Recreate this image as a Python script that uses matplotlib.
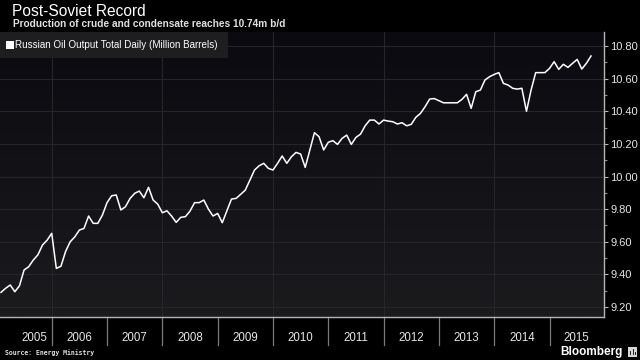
import numpy as np
import matplotlib
matplotlib.use("Agg")
import matplotlib.pyplot as plt
from matplotlib.patches import Rectangle
import matplotlib.transforms as mtransforms

# monthly output, Jan 2005 .. Sep 2015 (million barrels a day)
values = [
    9.29, 9.315, 9.335, 9.294, 9.33, 9.427, 9.447, 9.488, 9.52, 9.58, 9.61, 9.652,
    9.437, 9.45, 9.54, 9.60, 9.63, 9.672, 9.682, 9.758, 9.713, 9.713, 9.764, 9.84,
    9.882, 9.887, 9.795, 9.815, 9.866, 9.897, 9.911, 9.87, 9.934, 9.856, 9.831, 9.778,
    9.79, 9.758, 9.719, 9.75, 9.754, 9.788, 9.84, 9.84, 9.856, 9.80, 9.758, 9.774,
    9.717, 9.79, 9.862, 9.866, 9.891, 9.917, 9.979, 10.04, 10.066, 10.081, 10.05, 10.04,
    10.081, 10.126, 10.081, 10.121, 10.148, 10.138, 10.056, 10.162, 10.269, 10.244, 10.163, 10.21,
    10.22, 10.197, 10.234, 10.254, 10.197, 10.24, 10.26, 10.311, 10.346, 10.346, 10.322, 10.346,
    10.34, 10.336, 10.322, 10.33, 10.311, 10.32, 10.363, 10.387, 10.428, 10.475, 10.478, 10.465,
    10.452, 10.452, 10.452, 10.452, 10.473, 10.504, 10.418, 10.52, 10.53, 10.592, 10.612, 10.626,
    10.637, 10.571, 10.561, 10.541, 10.536, 10.541, 10.40, 10.53, 10.637, 10.637, 10.637, 10.663,
    10.704, 10.657, 10.688, 10.669, 10.694, 10.718, 10.659, 10.694, 10.739,
]
years = list(range(2005, 2016))
y_ticks = [9.20, 9.40, 9.60, 9.80, 10.00, 10.20, 10.40, 10.60, 10.80]

title = "Post-Soviet Record"
subtitle = "Production of crude and condensate reaches 10.74m b/d"
series_name = "Russian Oil Output Total Daily (Million Barrels)"
source = "Source: Energy Ministry"

# month-end positions as fractional years
t = 2005 + (np.arange(len(values)) + 1) / 12.0

W, H = 640, 360
fig = plt.figure(figsize=(W / 100, H / 100), dpi=100, facecolor="black")
ax = fig.add_axes([0 / W, (H - 317) / H, 604 / W, (317 - 32) / H])

x0, x1 = 2005.065, 2015.985
y0, y1 = 9.139, 10.886
ax.set_xlim(x0, x1)
ax.set_ylim(y0, y1)

# dark gradient background
grad = np.linspace(0, 1, 256).reshape(-1, 1)
cmap = matplotlib.colors.LinearSegmentedColormap.from_list("bg", ["#1b1b1e", "#0b0a10"])
ax.imshow(grad, extent=[x0, x1, y1, y0], aspect="auto", cmap=cmap, zorder=0,
          origin="upper")
ax.set_facecolor("#0b0a10")

# grid
for v in y_ticks:
    ax.axhline(v, color="#25252a", lw=0.8, zorder=1)
for yr in [2006, 2008, 2010, 2012, 2014]:
    ax.axvline(yr, color="#25252a", lw=0.8, zorder=1)

ax.plot(t, values, color="white", lw=1.1, zorder=3)

# spines / ticks
for s in ["top", "left"]:
    ax.spines[s].set_visible(False)
for s in ["right", "bottom"]:
    ax.spines[s].set_color("#b5b5b5")
    ax.spines[s].set_linewidth(1.0)
ax.yaxis.tick_right()
ax.set_yticks(y_ticks)
ax.set_yticklabels([f"{v:.2f}" for v in y_ticks])
ax.set_yticks(np.arange(9.3, 10.8, 0.2), minor=True)
ax.tick_params(axis="y", which="major", direction="out", length=3, width=0.8,
               color="#b5b5b5", labelcolor="#e6e6e6", labelsize=8, pad=1.5)
ax.tick_params(axis="y", which="minor", direction="out", length=2, width=0.8,
               color="#8a8a8a")
for lab in ax.get_yticklabels():
    lab.set_family("Liberation Sans")
ax.set_xticks([])

# year separators and labels under the axis
trans = mtransforms.blended_transform_factory(ax.transData, ax.transAxes)
sep_h = 28 / 285
for yr in years[1:]:
    ax.plot([yr, yr], [0, -sep_h], transform=trans, color="#7a7a7a", lw=0.9,
            clip_on=False, zorder=2)
for yr in years:
    lo, hi = max(yr, x0), min(yr + 1, x1)
    xc = (lo + hi) / 2 if yr > years[0] else lo + 0.62
    ax.text(xc, -21 / 285, str(yr), transform=trans, ha="center", va="center",
            color="#e6e6e6", fontsize=8.3, family="Liberation Sans")

# legend box
lt = fig.transFigure
fig.patches.append(Rectangle((0, (H - 58) / H), 228 / W, 26 / H, transform=lt,
                             facecolor="#1e1e21", edgecolor="none", zorder=5))
fig.patches.append(Rectangle((6 / W, (H - 49) / H), 8 / W, 8 / H, transform=lt,
                             facecolor="white", edgecolor="none", zorder=6))
fig.text(15 / W, (H - 45) / H, series_name, color="white", fontsize=7.1,
         family="Liberation Sans", va="center", ha="left", zorder=7)

# titles
fig.text(12 / W, (H - 11) / H, title, color="white", fontsize=11.2,
         family="Liberation Sans", va="center", ha="left")
fig.text(13 / W, (H - 24) / H, subtitle, color="#e0e0e0", fontsize=7.3,
         family="Liberation Sans", weight="bold", va="center", ha="left")

# footer
fig.text(5 / W, (H - 353) / H, source, color="#e0e0e0", fontsize=4.7,
         family="DejaVu Sans Mono", weight="bold", va="center", ha="left")
fig.text(623 / W, (H - 352) / H, "Bloomberg", color="white", fontsize=8.5,
         family="Liberation Sans", weight="bold", va="center", ha="right")
fig.patches.append(Rectangle((628 / W, (H - 357) / H), 9 / W, 10 / H, transform=lt,
                             facecolor="#d8d8d8", edgecolor="none"))
for bx, bh in [(630, 4), (632.5, 6), (635, 3)]:
    fig.patches.append(Rectangle((bx / W, (H - 355) / H), 1.2 / W, bh / H,
                                 transform=lt, facecolor="#222222", edgecolor="none"))

fig.savefig("out.png", dpi=100, facecolor="black")
